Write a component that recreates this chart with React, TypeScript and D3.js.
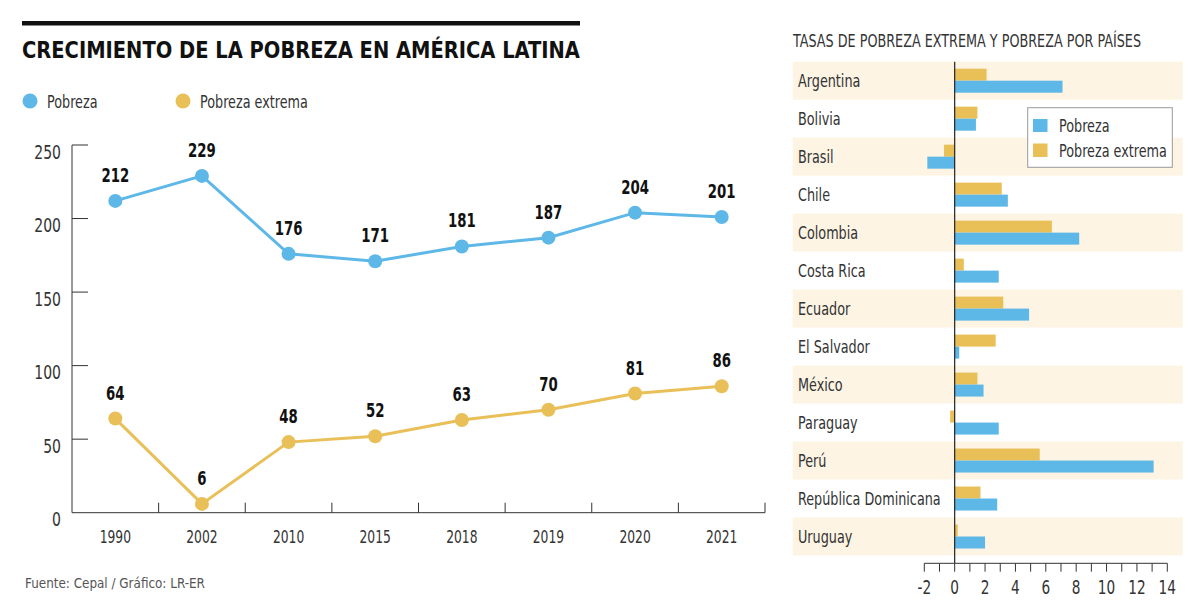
import React, { useLayoutEffect, useRef, useState } from "react";
import * as d3 from "d3";

const years = ["1990", "2002", "2010", "2015", "2018", "2019", "2020", "2021"];
const pobreza = [212, 229, 176, 171, 181, 187, 204, 201];
const pobrezaExtrema = [64, 6, 48, 52, 63, 70, 81, 86];
const yTicks = [0, 50, 100, 150, 200, 250];

const countries = [
  "Argentina", "Bolivia", "Brasil", "Chile", "Colombia", "Costa Rica", "Ecuador",
  "El Salvador", "México", "Paraguay", "Perú", "República Dominicana", "Uruguay",
];
const tasaPobreza = [7.1, 1.4, -1.8, 3.5, 8.2, 2.9, 4.9, 0.3, 1.9, 2.9, 13.1, 2.8, 2.0];
const tasaExtrema = [2.1, 1.5, -0.7, 3.1, 6.4, 0.6, 3.2, 2.7, 1.5, -0.3, 5.6, 1.7, 0.2];
const xTicksR = [-2, 0, 2, 4, 6, 8, 10, 12, 14];

const BLUE = "#5DB7E7";
const GOLD = "#E9BF58";
const SHADE = "#FDF4E4";
const FONT = "'DejaVu Sans Condensed', 'DejaVu Sans', sans-serif";
const SX = 0.79; // horizontal condensation for regular text
const SXB = 0.74; // for bold numbers

type TProps = {
  x: number; y: number; sx?: number; anchor?: "start" | "middle" | "end";
  size: number; weight?: string; fill?: string; children: React.ReactNode;
};
function T({ x, y, sx = SX, anchor = "start", size, weight = "normal", fill = "#333", children }: TProps) {
  return (
    <text transform={`translate(${x},${y}) scale(${sx},1)`} textAnchor={anchor} fontSize={size} fontWeight={weight} fill={fill}>
      {children}
    </text>
  );
}

function FitText({ x, y, width, size, weight = "normal", fill = "#333", children }: { x: number; y: number; width: number; size: number; weight?: string; fill?: string; children: React.ReactNode }) {
  const ref = useRef<SVGTextElement>(null);
  const [s, setS] = useState(0.78);
  useLayoutEffect(() => {
    if (ref.current) {
      const len = ref.current.getComputedTextLength();
      if (len > 0) setS(width / len);
    }
  }, [width]);
  return (
    <text ref={ref} transform={`translate(${x},${y}) scale(${s},1)`} fontSize={size} fontWeight={weight} fill={fill}>
      {children}
    </text>
  );
}

export default function App() {
  const W = 1200, H = 616;
  const x = d3.scaleBand<string>().domain(years).range([72, 765]);
  const y = d3.scaleLinear().domain([0, 250]).range([512.7, 145]);
  const cx = (yr: string) => (x(yr) as number) + x.bandwidth() / 2;
  const line = d3.line<number>().x((_, i) => cx(years[i])).y((d) => y(d));

  const xr = d3.scaleLinear().domain([-2, 14]).range([924.3, 1167.3]);
  const yr = d3.scaleBand<string>().domain(countries).range([61.7, 555.5]);
  const minorTicks = d3.range(-2, 15, 1);

  return (
    <svg width={W} height={H} style={{ position: "absolute", left: 0, top: 0, background: "#fff" }} fontFamily={FONT}>
      {/* LEFT CHART */}
      <rect x={22} y={21} width={558} height={4.5} fill="#111" />
      <FitText x={22} y={58} width={558} size={23} weight="bold" fill="#111">
        CRECIMIENTO DE LA POBREZA EN AMÉRICA LATINA
      </FitText>
      <circle cx={30} cy={101} r={7.5} fill={BLUE} />
      <T x={47} y={107.5} size={18}>Pobreza</T>
      <circle cx={183} cy={101} r={7.5} fill={GOLD} />
      <T x={200} y={107.5} size={18}>Pobreza extrema</T>

      {/* y axis */}
      <line x1={72} x2={72} y1={y(250)} y2={y(0)} stroke="#333" strokeWidth={1} />
      {yTicks.map((t) => (
        <g key={t}>
          {t > 0 && <line x1={72} x2={88} y1={y(t)} y2={y(t)} stroke="#333" strokeWidth={1} />}
          <T x={61} y={y(t) + 13.5} size={19} anchor="end" sx={0.82}>{t}</T>
        </g>
      ))}
      {/* x axis */}
      <line x1={72} x2={765} y1={y(0)} y2={y(0)} stroke="#333" strokeWidth={1} />
      {years.map((yrr) => (
        <g key={yrr}>
          <line x1={(x(yrr) as number) + x.bandwidth()} x2={(x(yrr) as number) + x.bandwidth()} y1={y(0)} y2={y(0) - 10} stroke="#333" strokeWidth={1} />
          <T x={cx(yrr)} y={543} size={18} anchor="middle" sx={0.76}>{yrr}</T>
        </g>
      ))}

      <path d={line(pobreza) as string} fill="none" stroke={BLUE} strokeWidth={3} />
      <path d={line(pobrezaExtrema) as string} fill="none" stroke={GOLD} strokeWidth={3} />
      {pobreza.map((v, i) => (
        <g key={"p" + i}>
          <circle cx={cx(years[i])} cy={y(v)} r={7} fill={BLUE} />
          <T x={cx(years[i])} y={y(v) - 19} size={20} weight="bold" fill="#111" anchor="middle" sx={SXB}>{v}</T>
        </g>
      ))}
      {pobrezaExtrema.map((v, i) => (
        <g key={"e" + i}>
          <circle cx={cx(years[i])} cy={y(v)} r={7} fill={GOLD} />
          <T x={cx(years[i])} y={y(v) - 19} size={20} weight="bold" fill="#111" anchor="middle" sx={SXB}>{v}</T>
        </g>
      ))}

      <FitText x={25} y={588} width={180} size={14} fill="#555">Fuente: Cepal / Gráfico: LR-ER</FitText>

      {/* RIGHT CHART */}
      <FitText x={793} y={47} width={348} size={18} fill="#333">
        TASAS DE POBREZA EXTREMA Y POBREZA POR PAÍSES
      </FitText>
      {countries.map((c, i) => {
        const y0 = yr(c) as number;
        const bw = yr.bandwidth();
        const mid = y0 + bw / 2;
        const bh = 12;
        return (
          <g key={c}>
            {i % 2 === 0 && <rect x={792.7} y={y0} width={390} height={bw} fill={SHADE} />}
            <T x={798} y={mid + 6.5} size={18}>{c}</T>
            <rect x={Math.min(xr(0), xr(tasaExtrema[i]))} y={mid - bh} width={Math.abs(xr(tasaExtrema[i]) - xr(0))} height={bh} fill={GOLD} />
            <rect x={Math.min(xr(0), xr(tasaPobreza[i]))} y={mid} width={Math.abs(xr(tasaPobreza[i]) - xr(0))} height={bh} fill={BLUE} />
          </g>
        );
      })}
      <line x1={xr(0)} x2={xr(0)} y1={61.7} y2={563.3} stroke="#222" strokeWidth={1.2} />
      <line x1={xr(-2)} x2={xr(14)} y1={563.3} y2={563.3} stroke="#333" strokeWidth={1} />
      {minorTicks.map((t) => (
        <line key={t} x1={xr(t)} x2={xr(t)} y1={563.3} y2={571.7} stroke="#333" strokeWidth={1} />
      ))}
      {xTicksR.map((t) => (
        <T key={t} x={xr(t)} y={594} size={19} anchor="middle" sx={0.8}>{t < 0 ? "-" + Math.abs(t) : String(t)}</T>
      ))}

      {/* legend */}
      <rect x={1027.7} y={107.7} width={144.6} height={59.6} fill="#fff" stroke="#999" strokeWidth={1} />
      <rect x={1033} y={119} width={14.5} height={13} fill={BLUE} />
      <T x={1059} y={131.5} size={18}>Pobreza</T>
      <rect x={1033} y={143.5} width={14.5} height={13.5} fill={GOLD} />
      <T x={1059} y={156.5} size={18}>Pobreza extrema</T>
    </svg>
  );
}
